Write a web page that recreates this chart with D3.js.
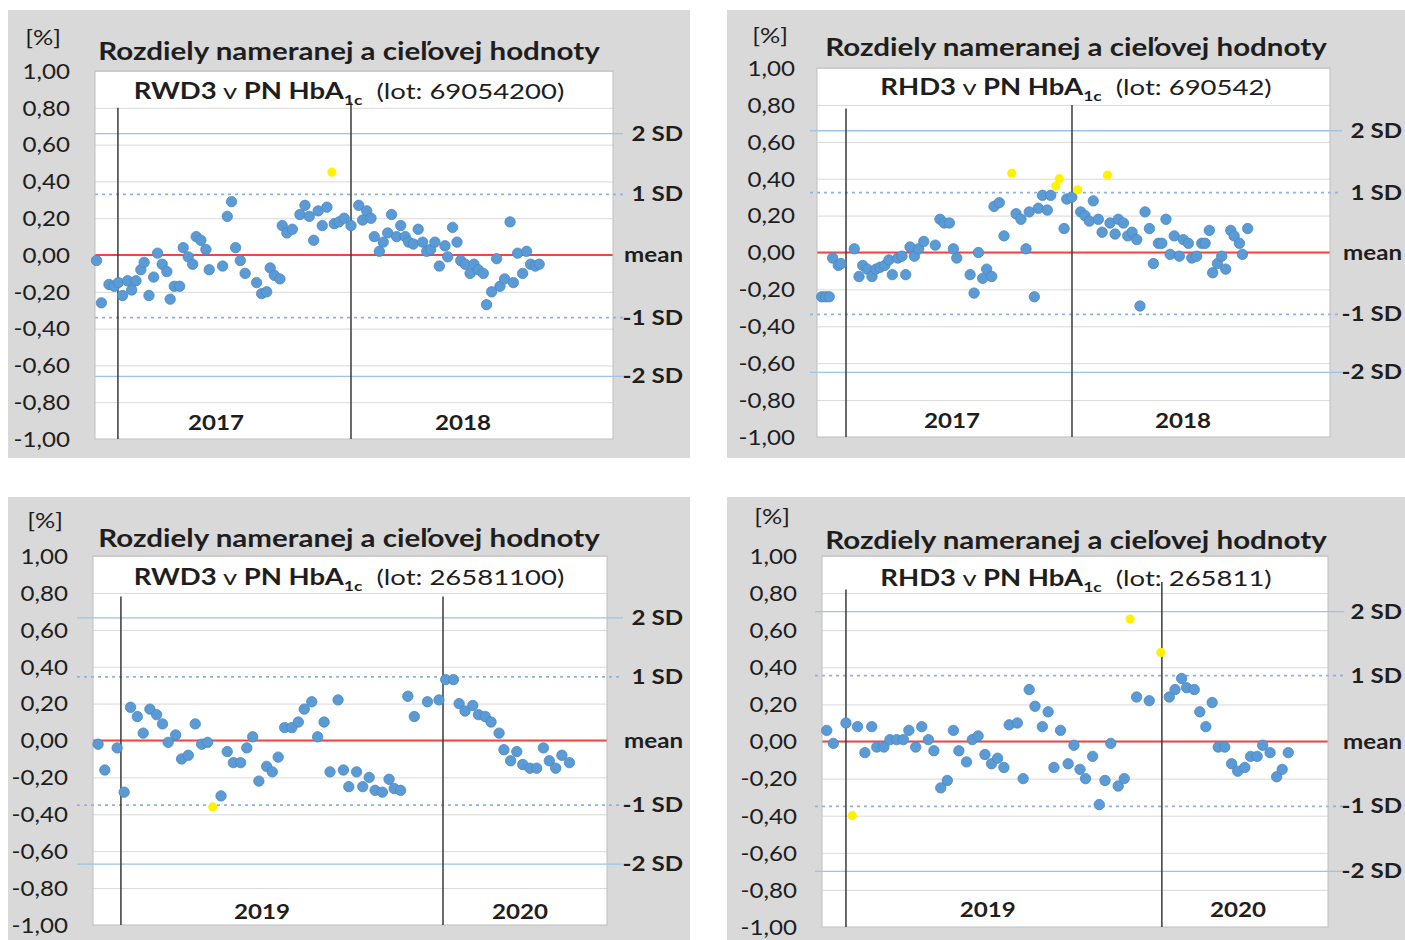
<!DOCTYPE html>
<html><head><meta charset="utf-8">
<script src="https://cdn.jsdelivr.net/npm/d3@7"></script>
<style>
body{margin:0;background:#fff}
svg{display:block}
text{font-family:Lato,"Open Sans",sans-serif;fill:#1e1e1e}
</style>
</head><body>
<svg id="chart" width="1405" height="940"></svg>
<script>
// ---------------- DATA ----------------
const yTickValues = [1.0,0.8,0.6,0.4,0.2,0,-0.2,-0.4,-0.6,-0.8,-1.0];
const titleText = "Rozdiely nameranej a cieľovej hodnoty";
const refLabels = ["2 SD","1 SD","mean","-1 SD","-2 SD"];

// x values = months since January of the first year shown
const p1Months = [-1.1,-0.85,-0.46,-0.19,0.02,0.24,0.5,0.71,0.93,1.18,1.35,1.6,1.84,2.04,2.28,2.52,2.69,2.9,3.18,3.36,3.62,3.85,4.03,4.27,4.53,4.7,5.39,5.63,5.85,6.06,6.3,6.55,7.14,7.4,7.66,7.84,8.05,8.34,8.46,8.7,8.98,9.37,9.63,9.85,10.08,10.31,10.52,10.76,11.14,11.38,11.65,12.0,12.4,12.6,12.81,13.03,13.2,13.46,13.66,13.89,14.09,14.35,14.56,14.79,14.97,15.21,15.46,15.69,15.9,16.1,16.32,16.55,16.84,16.98,17.23,17.46,17.65,17.88,18.13,18.33,18.55,18.81,18.98,19.24,19.5,19.67,19.91,20.19,20.36,20.58,20.84,21.04,21.25,21.49,21.69];
const p1Values = [-0.03,-0.26,-0.16,-0.17,-0.15,-0.22,-0.14,-0.19,-0.14,-0.08,-0.04,-0.22,-0.12,0.01,-0.05,-0.09,-0.24,-0.17,-0.17,0.04,-0.01,-0.05,0.10,0.08,0.03,-0.08,-0.06,0.21,0.29,0.04,-0.03,-0.10,-0.15,-0.21,-0.20,-0.07,-0.11,-0.13,0.16,0.12,0.14,0.22,0.27,0.21,0.08,0.24,0.16,0.26,0.17,0.18,0.20,0.16,0.27,0.19,0.24,0.20,0.10,0.02,0.07,0.12,0.22,0.10,0.16,0.10,0.07,0.06,0.14,0.07,0.02,0.03,0.07,-0.06,0.05,-0.01,0.15,0.07,-0.03,-0.05,-0.10,-0.05,-0.08,-0.10,-0.27,-0.20,-0.02,-0.17,-0.13,0.18,-0.15,0.01,-0.10,0.02,-0.05,-0.06,-0.05];
const p1OutMonths = [11.02];
const p1OutValues = [0.45];
const p1Sd = [0.66,0.33,0,-0.34,-0.66];

const p2Months = [-1.29,-1.08,-0.89,-0.71,-0.41,-0.27,0.44,0.69,0.89,1.13,1.38,1.59,1.81,2.06,2.28,2.46,2.75,2.97,3.17,3.40,3.63,3.86,4.13,4.74,4.99,5.22,5.49,5.70,5.88,6.59,6.80,7.03,7.26,7.47,7.74,7.86,8.14,8.39,9.03,9.29,9.56,9.73,10.0,10.21,10.43,10.69,10.87,11.58,11.72,11.99,12.46,12.69,12.92,13.13,13.40,13.60,14.02,14.29,14.46,14.73,14.96,15.19,15.44,15.61,15.88,16.11,16.32,16.59,16.77,16.99,17.21,17.43,17.70,17.91,18.18,18.36,18.62,18.89,19.07,19.29,19.47,19.72,19.95,20.16,20.43,20.61,20.89,21.05,21.33];
const p2Values = [-0.24,-0.24,-0.24,-0.03,-0.07,-0.06,0.02,-0.13,-0.07,-0.09,-0.13,-0.09,-0.08,-0.07,-0.04,-0.12,-0.03,-0.02,-0.12,0.03,-0.02,0.02,0.06,0.04,0.18,0.16,0.16,0.02,-0.03,-0.12,-0.22,0.00,-0.14,-0.09,-0.13,0.25,0.27,0.09,0.21,0.18,0.02,0.22,-0.24,0.24,0.31,0.23,0.31,0.13,0.29,0.30,0.22,0.20,0.17,0.28,0.18,0.11,0.16,0.10,0.18,0.16,0.09,0.11,0.07,-0.29,0.22,0.13,-0.06,0.05,0.05,0.18,-0.01,0.09,-0.02,0.07,0.05,-0.03,-0.02,0.05,0.05,0.12,-0.11,-0.06,-0.02,-0.09,0.12,0.09,0.05,-0.01,0.13];
const p2OutMonths = [8.80,11.14,11.33,12.30,13.88];
const p2OutValues = [0.43,0.36,0.40,0.34,0.42];
const p2Sd = [0.66,0.325,0,-0.335,-0.65];

const p3Months = [-0.85,-0.60,-0.14,0.12,0.36,0.61,0.83,1.08,1.33,1.55,1.76,2.04,2.26,2.51,2.77,3.01,3.23,3.73,3.96,4.19,4.46,4.69,4.91,5.14,5.43,5.64,5.86,6.10,6.37,6.61,6.83,7.11,7.33,7.57,7.79,8.09,8.29,8.49,8.78,9.01,9.25,9.47,9.74,9.99,10.18,10.42,10.69,10.93,11.42,11.85,12.10,12.39,12.60,12.82,13.11,13.32,13.57,13.79,14.09,14.27,14.52,14.75,14.97,15.24,15.49,15.74,15.96,16.20,16.43,16.71];
const p3Values = [-0.02,-0.16,-0.04,-0.28,0.18,0.13,0.04,0.17,0.14,0.09,-0.01,0.03,-0.10,-0.08,0.09,-0.02,-0.01,-0.30,-0.06,-0.12,-0.12,-0.04,0.02,-0.22,-0.14,-0.17,-0.09,0.07,0.07,0.10,0.17,0.21,0.02,0.10,-0.17,0.22,-0.16,-0.25,-0.17,-0.25,-0.20,-0.27,-0.28,-0.21,-0.26,-0.27,0.24,0.13,0.21,0.22,0.33,0.33,0.20,0.16,0.19,0.14,0.13,0.10,0.04,-0.05,-0.11,-0.06,-0.13,-0.15,-0.15,-0.04,-0.11,-0.15,-0.08,-0.12];
const p3OutMonths = [3.42];
const p3OutValues = [-0.36];
const p3Sd = [0.665,0.345,0,-0.35,-0.67];

const p4Months = [-0.73,-0.48,0.00,0.44,0.72,0.98,1.17,1.44,1.67,1.93,2.18,2.39,2.65,2.88,3.13,3.34,3.60,3.85,4.08,4.29,4.58,4.80,5.02,5.28,5.53,5.76,6.00,6.20,6.51,6.73,6.96,7.18,7.46,7.68,7.90,8.15,8.44,8.66,8.89,9.10,9.37,9.62,9.84,10.06,10.34,10.57,11.04,11.52,12.28,12.50,12.75,12.94,13.23,13.44,13.67,13.91,14.14,14.39,14.65,14.88,15.15,15.37,15.62,15.83,16.11,16.36,16.57,16.80];
const p4Values = [0.06,-0.01,0.10,0.08,-0.06,0.08,-0.03,-0.03,0.01,0.01,0.01,0.06,-0.03,0.08,0.01,-0.05,-0.25,-0.21,0.06,-0.05,-0.11,0.01,0.03,-0.07,-0.12,-0.09,-0.14,0.09,0.10,-0.20,0.28,0.19,0.08,0.16,-0.14,0.06,-0.12,-0.02,-0.15,-0.20,-0.08,-0.34,-0.21,-0.01,-0.24,-0.20,0.24,0.22,0.24,0.28,0.34,0.29,0.28,0.16,0.08,0.21,-0.03,-0.03,-0.12,-0.16,-0.14,-0.08,-0.08,-0.02,-0.06,-0.19,-0.15,-0.06];
const p4OutMonths = [0.24,10.79,11.96];
const p4OutValues = [-0.40,0.66,0.48];
const p4Sd = [0.70,0.355,0,-0.35,-0.70];

const devices = ["RWD3","RHD3","RWD3","RHD3"];
const lots = ["69054200","690542","26581100","265811"];
const yearLabels = [["2017","2018"],["2017","2018"],["2019","2020"],["2019","2020"]];
const yearLabelMonths = [[5.05,17.77],[5.63,17.9],[5.26,14.87],[5.39,14.89]];
const yearBoundaries = [0,12];
const yearLineTops = [[0.80,0.83],[0.78,0.80],[0.78,0.78],[0.82,0.86]];
const xDomains = [[-1.18,25.49],[-1.54,25.70],[-1.04,18.11],[-0.91,18.31]];

// ---------------- LAYOUT ----------------
const layouts = [
  {bg:[8,10,682,448], plot:[95,71,613,439], tickRight:70, labelRight:683, ext:[0,10], pct:[43,45], titleX:349, titleY:60, subY:99, yearY:430},
  {bg:[727,10,678,448], plot:[817,68,1330,437], tickRight:795, labelRight:1402, ext:[7,12], pct:[770,43], titleX:1076, titleY:56, subY:95, yearY:428},
  {bg:[8,497,682,443], plot:[93,556,607,925], tickRight:68, labelRight:683, ext:[16,16], pct:[45,528], titleX:349, titleY:547, subY:585, yearY:919},
  {bg:[727,497,678,443], plot:[822,556,1328,927], tickRight:797, labelRight:1402, ext:[7,16], pct:[772,524], titleX:1076, titleY:549, subY:586, yearY:917}
];
const series = [
  {mx:p1Months, v:p1Values, ox:p1OutMonths, ov:p1OutValues, sd:p1Sd},
  {mx:p2Months, v:p2Values, ox:p2OutMonths, ov:p2OutValues, sd:p2Sd},
  {mx:p3Months, v:p3Values, ox:p3OutMonths, ov:p3OutValues, sd:p3Sd},
  {mx:p4Months, v:p4Values, ox:p4OutMonths, ov:p4OutValues, sd:p4Sd}
];

const SX = 1.15; // horizontal stretch of the original lettering
const locale = d3.formatLocale({decimal:",", thousands:" ", grouping:[3], currency:["",""], minus:"-"});
const fmt = locale.format(".2f");
const svg = d3.select("#chart");

function label(g, x, y, str, size, weight, anchor, sx){
  return g.append("text")
    .attr("transform", `translate(${x},${y}) scale(${sx||SX},1)`)
    .attr("text-anchor", anchor||"middle")
    .style("font-size", size+"px")
    .style("font-weight", weight||400)
    .text(str);
}

layouts.forEach((L, i) => {
  const S = series[i];
  const g = svg.append("g");
  const [px0, py0, px1, py1] = L.plot;
  const x = d3.scaleLinear().domain(xDomains[i]).range([px0, px1]);
  const y = d3.scaleLinear().domain([-1, 1]).range([py1, py0]);

  g.append("rect").attr("x",L.bg[0]).attr("y",L.bg[1]).attr("width",L.bg[2]).attr("height",L.bg[3]).attr("fill","#d9d9d9");
  g.append("rect").attr("x",px0).attr("y",py0).attr("width",px1-px0).attr("height",py1-py0).attr("fill","#ffffff");

  // gridlines
  const grid = g.append("g").attr("transform",`translate(${px0},0)`)
    .call(d3.axisLeft(y).tickValues(yTickValues).tickSize(-(px1-px0)).tickFormat(""));
  grid.select(".domain").remove();
  grid.selectAll("line").attr("stroke","#d9d9d9").attr("stroke-width",1);

  // SD reference lines
  const xl = px0 - L.ext[0], xr = px1 + L.ext[1];
  S.sd.forEach((v, k) => {
    if (k === 2) return;
    const ln = g.append("line").attr("x1",xl).attr("x2",xr).attr("y1",y(v)).attr("y2",y(v));
    if (k === 0 || k === 4) ln.attr("stroke","#9dc3e6").attr("stroke-width",1.3);
    else ln.attr("stroke","#8db3e2").attr("stroke-width",1.8).attr("stroke-dasharray","3,4");
  });
  // mean line
  g.append("line").attr("x1",px0).attr("x2",px1).attr("y1",y(0)).attr("y2",y(0))
    .attr("stroke","#f24444").attr("stroke-width",2);

  // plot border
  g.append("rect").attr("x",px0).attr("y",py0).attr("width",px1-px0).attr("height",py1-py0)
    .attr("fill","none").attr("stroke","#bfbfbf").attr("stroke-width",1);

  // year boundaries
  g.selectAll(".yb").data(yearBoundaries).join("line")
    .attr("x1",d=>x(d)).attr("x2",d=>x(d))
    .attr("y1",(d,k)=>y(yearLineTops[i][k])).attr("y2",py1)
    .attr("stroke","#3a3a3a").attr("stroke-width",1.5);

  // points
  const pts = S.mx.map((m, k) => [m, S.v[k]]);
  g.selectAll(".pt").data(pts).join("circle")
    .attr("cx",d=>x(d[0])).attr("cy",d=>y(d[1])).attr("r",5.2)
    .attr("fill","#5b9bd5").attr("stroke","#4a86c2").attr("stroke-width",0.8);
  const outs = S.ox.map((m, k) => [m, S.ov[k]]);
  g.selectAll(".out").data(outs).join("circle")
    .attr("cx",d=>x(d[0])).attr("cy",d=>y(d[1])).attr("r",4.6)
    .attr("fill","#fff200");

  // y axis labels
  const ax = g.append("g").attr("transform",`translate(${L.tickRight},0)`)
    .call(d3.axisLeft(y).tickValues(yTickValues).tickSize(0).tickPadding(0).tickFormat(d => fmt(Math.abs(d)<1e-9?0:d)));
  ax.select(".domain").remove();
  ax.selectAll("text").attr("x",0).attr("dy","0.35em").attr("transform",`scale(${SX},1)`)
    .style("font-size","21px").style("font-family",'Lato,"Open Sans",sans-serif').attr("fill","#1e1e1e");

  // right-hand reference labels
  S.sd.forEach((v, k) => {
    label(g, L.labelRight, y(v) + 7, refLabels[k], 21, 700, "end");
  });

  // [%]
  label(g, L.pct[0], L.pct[1], "[%]", 22, 400, "middle");
  // title
  label(g, L.titleX, L.titleY, titleText, 24, 700, "middle", 1.23);
  // subtitle
  const st = g.append("text")
    .attr("transform",`translate(${L.titleX},${L.subY}) scale(1.25,1)`)
    .attr("text-anchor","middle").style("font-size","22px");
  st.append("tspan").style("font-weight",700).text(devices[i]);
  st.append("tspan").style("font-weight",400).text(" v ");
  st.append("tspan").style("font-weight",700).text("PN HbA");
  st.append("tspan").style("font-weight",700).style("font-size","14px").attr("dy",6).text("1c");
  st.append("tspan").style("font-weight",400).attr("dy",-6).text("\u00a0 (lot: " + lots[i] + ")");

  // year labels
  yearLabels[i].forEach((yl, k) => {
    label(g, x(yearLabelMonths[i][k]), L.yearY, yl, 21, 700, "middle");
  });
});
</script>
</body></html>
